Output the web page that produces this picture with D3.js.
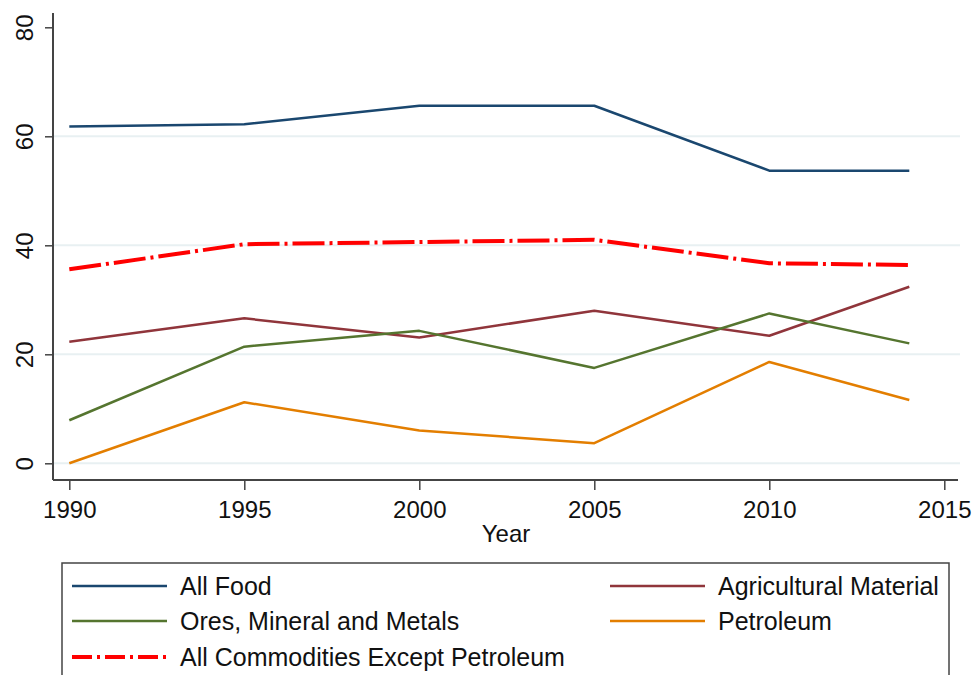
<!DOCTYPE html>
<html>
<head>
<meta charset="utf-8">
<script src="https://cdn.jsdelivr.net/npm/d3@7"></script>
<style>
  body { margin: 0; background: #fff; }
  svg { display: block; font-family: Arial, "Liberation Sans", sans-serif; }
</style>
</head>
<body>
<div id="chart"></div>
<script>
// years on the x axis
const years = [1990, 1995, 2000, 2005, 2010, 2014];

// series values
const allFood     = [61.8, 62.2, 65.6, 65.6, 53.7, 53.7];
const agriculture = [22.3, 26.6, 23.1, 28.0, 23.4, 32.4];
const ores        = [7.9, 21.4, 24.3, 17.5, 27.5, 22.0];
const petroleum   = [0.0, 11.2, 6.0, 3.7, 18.6, 11.6];
const allExPetrol = [35.6, 40.2, 40.6, 41.0, 36.7, 36.4];

const seriesNames = ["All Food", "Agricultural Material", "Ores, Mineral and Metals",
                     "Petroleum", "All Commodities Except Petroleum"];

const xTicks = [1990, 1995, 2000, 2005, 2010, 2015];
const yTicks = [0, 20, 40, 60, 80];
const gridTicks = [0, 20, 40, 60];

let series = [
  {name: seriesNames[0], values: allFood,     color: '#1a476f', width: 2.5, dash: null},
  {name: seriesNames[1], values: agriculture, color: '#90353b', width: 2.5, dash: null},
  {name: seriesNames[2], values: ores,        color: '#55752f', width: 2.5, dash: null},
  {name: seriesNames[3], values: petroleum,   color: '#e37e00', width: 2.5, dash: null},
  {name: seriesNames[4], values: allExPetrol, color: '#ff0000', width: 4,   dash: '32,5,3,5'}
];

let dim = {width: 972, height: 675};
let plot = {left: 53, right: 958, top: 13, bottom: 480};

let svg = d3.select('#chart').append('svg')
    .attr('width', dim.width)
    .attr('height', dim.height);

let x = d3.scaleLinear().domain([1990, 2015]).range([69.3, 944.3]);
let y = d3.scaleLinear().domain([0, 80]).range([463.3, 27.3]);

// gridlines
svg.append('g').selectAll('line')
    .data(gridTicks)
    .join('line')
    .attr('x1', plot.left).attr('x2', 960)
    .attr('y1', d => y(d)).attr('y2', d => y(d))
    .attr('stroke', '#e8f0f2')
    .attr('stroke-width', 2);

// y axis
let yAxis = svg.append('g')
    .attr('transform', `translate(${plot.left},0)`)
    .call(d3.axisLeft(y).tickValues(yTicks).tickSize(8).tickFormat(d3.format('d')));
yAxis.select('.domain').remove();
yAxis.selectAll('line').attr('stroke', '#444').attr('stroke-width', 1.5);
yAxis.selectAll('text')
    .attr('x', null).attr('dy', null)
    .attr('transform', 'translate(-20,0) rotate(-90)')
    .attr('text-anchor', 'middle')
    .attr('font-size', 24)
    .attr('fill', '#111');

// x axis
let xAxis = svg.append('g')
    .attr('transform', `translate(0,${plot.bottom})`)
    .call(d3.axisBottom(x).tickValues(xTicks).tickSize(10).tickFormat(d3.format('d')));
xAxis.select('.domain').remove();
xAxis.selectAll('line').attr('stroke', '#444').attr('stroke-width', 1.5);
xAxis.selectAll('text')
    .attr('y', null).attr('dy', null)
    .attr('transform', 'translate(0,38)')
    .attr('font-size', 24)
    .attr('fill', '#111');

// axis lines
svg.append('line')
    .attr('x1', plot.left).attr('x2', plot.left)
    .attr('y1', plot.top).attr('y2', plot.bottom)
    .attr('stroke', '#444').attr('stroke-width', 2);
svg.append('line')
    .attr('x1', plot.left).attr('x2', plot.right)
    .attr('y1', plot.bottom).attr('y2', plot.bottom)
    .attr('stroke', '#444').attr('stroke-width', 2);

svg.append('text')
    .attr('x', 506).attr('y', 542)
    .attr('text-anchor', 'middle')
    .attr('font-size', 24)
    .attr('fill', '#111')
    .text('Year');

// lines
let line = d3.line()
    .x((d, i) => x(years[i]))
    .y(d => y(d));

svg.append('g').selectAll('path')
    .data(series)
    .join('path')
    .attr('d', d => line(d.values))
    .attr('fill', 'none')
    .attr('stroke', d => d.color)
    .attr('stroke-width', d => d.width)
    .attr('stroke-dasharray', d => d.dash)
    .attr('stroke-linejoin', 'round');

// legend
let legend = svg.append('g');
legend.append('rect')
    .attr('x', 62).attr('y', 563)
    .attr('width', 887).attr('height', 130)
    .attr('fill', '#fff')
    .attr('stroke', '#444')
    .attr('stroke-width', 1.5);

let legendPos = [
  {x: 72, y: 586}, {x: 610, y: 586},
  {x: 72, y: 621}, {x: 610, y: 621},
  {x: 72, y: 657}
];

let items = legend.selectAll('g.item')
    .data(series)
    .join('g')
    .attr('class', 'item')
    .attr('transform', (d, i) => `translate(${legendPos[i].x},${legendPos[i].y})`);

items.append('line')
    .attr('x1', 0).attr('x2', 95)
    .attr('y1', 0).attr('y2', 0)
    .attr('stroke', d => d.color)
    .attr('stroke-width', d => d.width)
    .attr('stroke-dasharray', d => d.dash ? '20,5,3,5' : null);

items.append('text')
    .attr('x', 108)
    .attr('y', 9)
    .attr('font-size', 25)
    .attr('fill', '#111')
    .text(d => d.name);
</script>
</body>
</html>
